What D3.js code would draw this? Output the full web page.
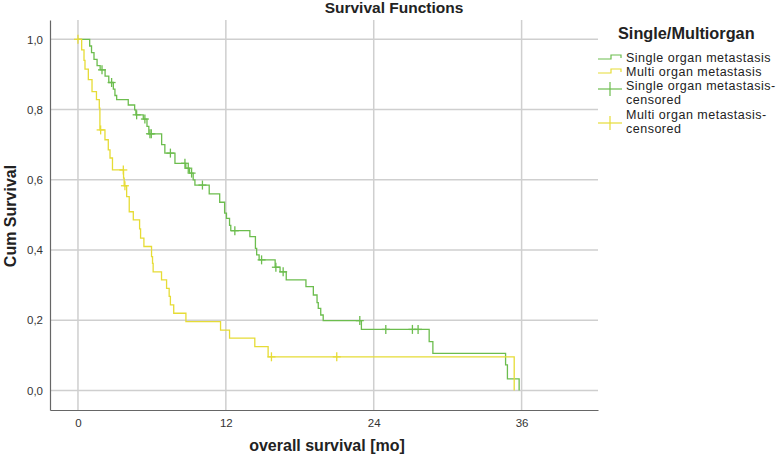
<!DOCTYPE html>
<html>
<head>
<meta charset="utf-8">
<script src="https://cdn.jsdelivr.net/npm/d3@7"></script>
<style>
  html, body { margin: 0; padding: 0; background: #fff; }
  svg { display: block; font-family: "Liberation Sans", Arial, sans-serif; }
</style>
</head>
<body>
<svg id="chart" width="778" height="458"></svg>
<script>
// ---- Data ----
const seriesNames = ["Single organ metastasis", "Multi organ metastasis"];
const censorNames = ["Single organ metastasis-\ncensored", "Multi organ metastasis-\ncensored"];

// Kaplan–Meier steps: [time (months), cumulative survival after event]
const singleSteps = [
  [0, 1.0], [0.95, 0.981], [1.1, 0.962], [1.3, 0.943], [1.55, 0.925], [1.8, 0.913],
  [2.2, 0.895], [2.5, 0.877], [2.87, 0.858], [3.0, 0.84], [3.14, 0.828],
  [4.08, 0.813], [4.6, 0.799], [4.7, 0.785], [5.3, 0.773], [5.6, 0.752], [5.75, 0.731],
  [6.79, 0.70], [7.05, 0.676], [7.87, 0.647], [8.75, 0.633], [9.05, 0.619], [9.35, 0.60],
  [9.49, 0.585], [10.65, 0.56], [11.5, 0.536], [11.9, 0.505], [12.05, 0.49], [12.3, 0.47],
  [12.4, 0.455], [13.95, 0.438], [14.4, 0.405], [14.5, 0.386], [14.7, 0.372],
  [16.0, 0.351], [16.4, 0.338], [16.9, 0.315], [18.5, 0.296], [19.1, 0.272],
  [19.4, 0.25], [19.5, 0.234], [19.7, 0.215], [19.9, 0.199], [23.0, 0.174],
  [28.5, 0.139], [28.8, 0.106], [34.7, 0.073], [34.85, 0.033], [35.8, 0.0]
];
const singleCensored = [1.95, 2.73, 4.76, 5.43, 5.84, 5.95, 7.5, 8.68, 8.95, 9.22, 10.1,
  12.73, 14.9, 16.06, 16.65, 22.87, 24.98, 27.14, 27.6];

const multiSteps = [
  [0, 1.0], [0.3, 0.97], [0.49, 0.94], [0.57, 0.915], [0.84, 0.885], [1.14, 0.851],
  [1.5, 0.828], [1.73, 0.804], [1.78, 0.742], [2.19, 0.714], [2.46, 0.685], [2.6, 0.662],
  [2.8, 0.628], [3.7, 0.605], [3.75, 0.583], [3.95, 0.552], [4.16, 0.509], [4.49, 0.486],
  [5.0, 0.46], [5.08, 0.434], [5.35, 0.41], [5.97, 0.381], [6.05, 0.362], [6.1, 0.338],
  [6.78, 0.315], [7.19, 0.291], [7.4, 0.268], [7.5, 0.244], [7.77, 0.22], [8.76, 0.196],
  [11.57, 0.172], [12.3, 0.149], [14.35, 0.125], [15.43, 0.096], [35.4, 0.0]
];
const multiCensored = [0, 1.84, 3.68, 3.81, 15.7, 21.0];

const xTicks = [0, 12, 24, 36];
const yTicks = [0, 0.2, 0.4, 0.6, 0.8, 1.0];
const colors = ["#6cbd4e", "#e6dc36"];

// ---- Layout ----
const svg = d3.select("#chart");
const pLeft = 50, pRight = 598, pTop = 20, pBottom = 410;
const x = d3.scaleLinear().domain([-2.27, 42.2]).range([pLeft, pRight]);
const y = d3.scaleLinear().domain([-0.0555, 1.055]).range([pBottom, pTop]);

// gridlines
svg.append("g").selectAll("line").data(xTicks).join("line")
  .attr("x1", d => x(d)).attr("x2", d => x(d))
  .attr("y1", pTop).attr("y2", pBottom)
  .attr("stroke", "#cfcfcf").attr("stroke-width", 1.5);
svg.append("g").selectAll("line").data(yTicks).join("line")
  .attr("x1", pLeft).attr("x2", pRight)
  .attr("y1", d => y(d)).attr("y2", d => y(d))
  .attr("stroke", "#cfcfcf").attr("stroke-width", 1.5);

// axes
const xAxis = svg.append("g").attr("transform", `translate(0,${pBottom})`)
  .call(d3.axisBottom(x).tickValues(xTicks).tickSize(0).tickPadding(9).tickFormat(d3.format("d")));
const yAxis = svg.append("g").attr("transform", `translate(${pLeft},0)`)
  .call(d3.axisLeft(y).tickValues(yTicks).tickSize(0).tickPadding(7)
    .tickFormat(d => d3.format(".1f")(d).replace(".", ",")));
[xAxis, yAxis].forEach(a => {
  a.select(".domain").attr("stroke", "#666").attr("stroke-width", 1.2);
  a.selectAll("text").attr("fill", "#333").style("font-size", "11.5px")
    .style("font-family", "'Liberation Sans', Arial, sans-serif");
});

// step curves
const line = d3.line().x(d => x(d[0])).y(d => y(d[1])).curve(d3.curveStepAfter);
function survAt(steps, t) {
  let v = steps[0][1];
  for (const s of steps) { if (s[0] <= t) v = s[1]; }
  return v;
}
[[singleSteps, singleCensored, colors[0]], [multiSteps, multiCensored, colors[1]]].forEach(([steps, cens, col]) => {
  svg.append("path").datum(steps).attr("d", line)
    .attr("fill", "none").attr("stroke", col).attr("stroke-width", 1.3);
  const g = svg.append("g");
  cens.forEach(t => {
    const cx = x(t), cy = y(survAt(steps, t));
    g.append("line").attr("x1", cx).attr("x2", cx).attr("y1", cy - 4.5).attr("y2", cy + 4.5)
      .attr("stroke", col).attr("stroke-width", 1.3);
    g.append("line").attr("x1", cx - 4).attr("x2", cx + 4).attr("y1", cy).attr("y2", cy)
      .attr("stroke", col).attr("stroke-width", 1.3);
  });
});

// titles
svg.append("text").attr("x", 394).attr("y", 13).attr("text-anchor", "middle")
  .style("font-weight", "bold").style("font-size", "15.5px").attr("fill", "#222")
  .text("Survival Functions");
svg.append("text").attr("x", 327).attr("y", 451).attr("text-anchor", "middle")
  .style("font-weight", "bold").style("font-size", "16px").attr("fill", "#222")
  .text("overall survival [mo]");
svg.append("text").attr("transform", "translate(16,216) rotate(-90)").attr("text-anchor", "middle")
  .style("font-weight", "bold").style("font-size", "16px").attr("fill", "#222")
  .text("Cum Survival");

// legend
const lg = svg.append("g");
lg.append("text").attr("x", 618).attr("y", 39).style("font-weight", "bold").style("font-size", "16.3px")
  .attr("fill", "#222").text("Single/Multiorgan");
const itemFont = "12.5px", itemSpacing = "0.5px";
const itemY = [57, 71];
seriesNames.forEach((name, i) => {
  const cy = itemY[i];
  lg.append("path")
    .attr("d", `M598,${cy + 2}H611V${cy - 2}H621V${cy + 1}`)
    .attr("fill", "none").attr("stroke", colors[i]).attr("stroke-width", 1.2);
  lg.append("text").attr("x", 626).attr("y", cy + 4.5).style("font-size", itemFont)
    .style("letter-spacing", itemSpacing).attr("fill", "#222").text(name);
});
const cItemY = [89, 123];
const cTextY = [89.5, 118.5];
censorNames.forEach((name, i) => {
  const cy = cItemY[i];
  lg.append("line").attr("x1", 598).attr("x2", 622).attr("y1", cy).attr("y2", cy)
    .attr("stroke", colors[i]).attr("stroke-width", 1.2);
  lg.append("line").attr("x1", 610).attr("x2", 610).attr("y1", cy - 7).attr("y2", cy + 7)
    .attr("stroke", colors[i]).attr("stroke-width", 1.2);
  name.split("\n").forEach((l, j) => {
    lg.append("text").attr("x", 626).attr("y", cTextY[i] + j * 14).style("font-size", itemFont)
      .style("letter-spacing", itemSpacing).attr("fill", "#222").text(l);
  });
});
</script>
</body>
</html>
